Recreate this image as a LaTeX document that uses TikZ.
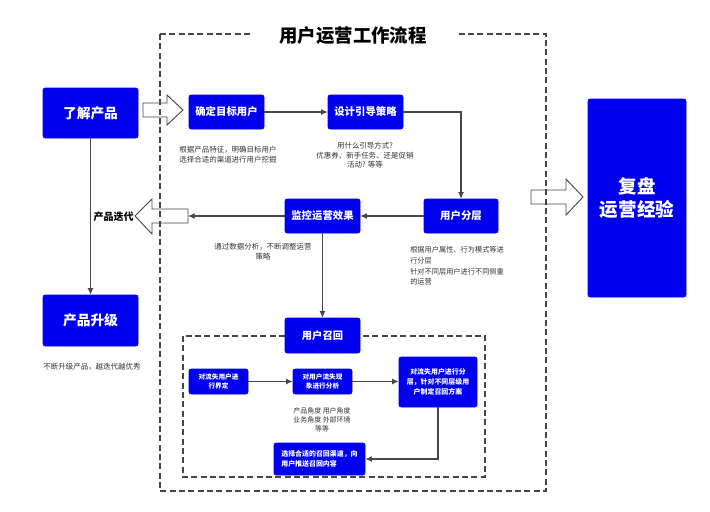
\documentclass[tikz,border=0pt]{standalone}
\usepackage{fontspec}
\setmainfont{Noto Sans CJK SC}
\usetikzlibrary{arrows.meta}
\definecolor{bbox}{RGB}{0,0,238}
\definecolor{lin}{RGB}{70,70,70}
\def\u{0.75pt}
\tikzset{
  bluebox/.style={fill=bbox, draw=bbox, rounded corners=1.5pt, text=white, font=\bfseries, align=center, inner sep=1pt},
  conn/.style={draw=lin, line width=0.8pt, -{Latex[length=5pt,width=4.5pt]}},
  plain/.style={draw=lin, line width=0.8pt},
  hollow/.style={draw=lin, line width=0.7pt},
  dashbox/.style={draw=lin, line width=0.8pt, dash pattern=on 4.5pt off 2.5pt},
  note/.style={text=black!80, align=center, inner sep=0pt}
}
\begin{document}
\begin{tikzpicture}[x=0.75pt,y=-0.75pt]
\useasboundingbox (0,0) rectangle (710,511);
% outer dashed frame
\draw[dashbox] (160,34) rectangle (546,491);
\node[fill=white, minimum width=205*\u, inner ysep=2pt, font=\fontsize{13.8}{16}\selectfont\bfseries] (title) at (353,36) {用户运营工作流程};
% inner dashed frame
\draw[dashbox] (183,336) rectangle (485,477);

% boxes
\node[bluebox, minimum width=95*\u, minimum height=50*\u, font=\fontsize{10.3}{12}\selectfont\bfseries] (know) at (90.5,113) {了解产品};
\node[bluebox, minimum width=95*\u, minimum height=51*\u, font=\fontsize{10.3}{12}\selectfont\bfseries] (upgrade) at (90.5,320.5) {产品升级};
\node[bluebox, minimum width=75*\u, minimum height=34*\u, font=\fontsize{7.8}{9}\selectfont\bfseries] (target) at (226.5,112) {确定目标用户};
\node[bluebox, minimum width=75*\u, minimum height=34*\u, font=\fontsize{7.8}{9}\selectfont\bfseries] (design) at (365.5,112) {设计引导策略};
\node[bluebox, minimum width=74*\u, minimum height=34*\u, font=\fontsize{7.8}{9}\selectfont\bfseries] (layer) at (461,216) {用户分层};
\node[bluebox, minimum width=75*\u, minimum height=34*\u, font=\fontsize{7.8}{9}\selectfont\bfseries] (monitor) at (322.5,216) {监控运营效果};
\node[bluebox, minimum width=75*\u, minimum height=35*\u, font=\fontsize{7.7}{9}\selectfont\bfseries] (recall) at (322.5,335.5) {用户召回};
\node[bluebox, minimum width=98*\u, minimum height=198*\u, font=\fontsize{13.9}{17.5}\selectfont\bfseries] (review) at (637,198) {复盘\\运营经验};

\node[bluebox, minimum width=59*\u, minimum height=25*\u, font=\fontsize{5}{7}\selectfont\bfseries] (r1) at (218.5,381.5) {对流失用户进\\行界定};
\node[bluebox, minimum width=59*\u, minimum height=25*\u, font=\fontsize{5}{7}\selectfont\bfseries] (r2) at (322.5,381.5) {对用户流失现\\象进行分析};
\node[bluebox, minimum width=78*\u, minimum height=50*\u, font=\fontsize{5.2}{7.5}\selectfont\bfseries] (r3) at (438,382) {对流失用户进行分\\层，针对不同层级用\\户制定召回方案};
\node[bluebox, minimum width=91*\u, minimum height=32*\u, align=left, font=\fontsize{5.2}{7.5}\selectfont\bfseries] (r4) at (319.5,459) {选择合适的召回渠道，向\\用户推送召回内容};

% notes
\node[note, font=\fontsize{5.6}{7.1}\selectfont] (n1) at (228,154.5) {根据产品特征，明确目标用户\\选择合适的渠道进行用户挖掘};
\node[note, font=\fontsize{5.6}{7.1}\selectfont] (n2) at (365,155.5) {用什么引导方式?\\优惠券、新手任务、还是促销\\活动? 等等};
\node[note, align=left, anchor=west, font=\fontsize{5.4}{8}\selectfont] (n3) at (410,266) {根据用户属性、行为模式等进\\行分层\\针对不同层用户进行不同侧重\\的运营};
\node[note, font=\fontsize{5.6}{7.1}\selectfont] (n4) at (263,251.5) {通过数据分析，不断调整运营\\策略};
\node[note, font=\fontsize{5.6}{7}\selectfont] (n5) at (92,367) {不断升级产品，越迭代越优秀};
\node[note, font=\fontsize{5.2}{6.8}\selectfont] (n6) at (322,420) {产品角度 用户角度\\业务角度 外部环境\\等等};
\node[anchor=east, inner sep=0pt, font=\fontsize{7.5}{9}\selectfont\bfseries] (iter) at (134,217) {产品迭代};

% hollow arrows
\draw[hollow] (143,103) -- (167,103) -- (167,95) -- (183,110) -- (167,125) -- (167,117) -- (143,117) -- cycle;
\draw[hollow] (531,190) -- (566,190) -- (566,179) -- (583,197) -- (566,215) -- (566,204) -- (531,204) -- cycle;
\draw[hollow] (188,209) -- (152,209) -- (152,199) -- (135,216) -- (152,234) -- (152,223) -- (188,223) -- cycle;
\coordinate (itertail) at (188,216);

% connectors
\draw[conn] (target) -- (design);
\draw[conn] (design.east) -| (layer.north);
\draw[conn] (layer) -- (monitor);
\draw[conn] (monitor.west) -- (itertail);
\draw[conn] (monitor) -- (recall);
\draw[conn] (know) -- (upgrade);
\draw[conn] (r1) -- (r2);
\draw[conn] (r2) -- (r2 -| r3.west);
\draw[conn] (r3.south) |- (r4.east);
\end{tikzpicture}
\end{document}
